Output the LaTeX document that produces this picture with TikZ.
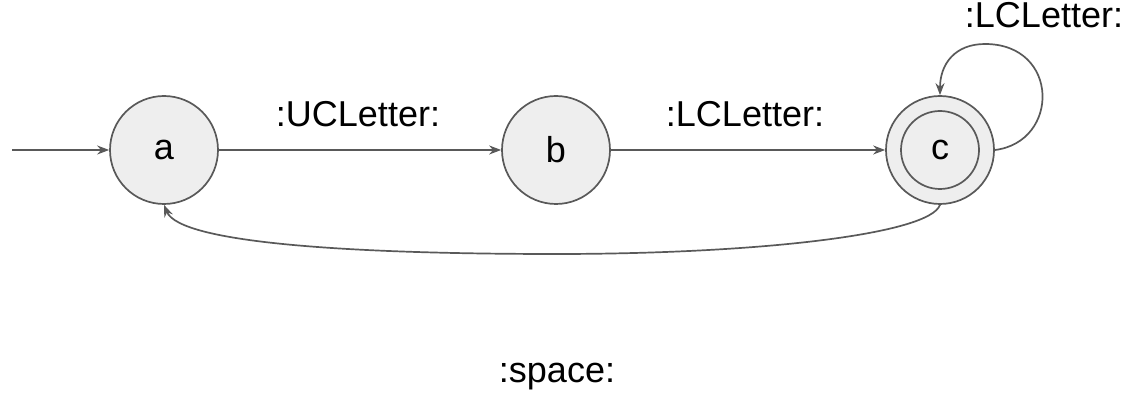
\documentclass[tikz,border=0pt]{standalone}
\usepackage{fontspec}
\setmainfont{Liberation Sans}
\usetikzlibrary{arrows.meta}
\definecolor{linegray}{HTML}{595959}
\definecolor{fillgray}{HTML}{EEEEEE}
\tikzset{
  state/.style={circle, draw=linegray, fill=fillgray, line width=1.7pt, minimum size=108pt, inner sep=0pt, font=\fontsize{36}{42}\selectfont},
  conn/.style={draw=linegray, line width=1.7pt, -{Stealth[length=12pt,width=9pt]}},
  lbl/.style={anchor=base, inner sep=0pt, font=\fontsize{36}{42}\selectfont}
}
\begin{document}
\begin{tikzpicture}[x=1pt,y=1pt]
\useasboundingbox (0,0) rectangle (1132,404);
\node[state] (a) at (164,254) {a};
\node[state] (b) at (556,254) {b};
\node[state] (c) at (940,254) {c};
\node[circle, draw=linegray, line width=1.7pt, minimum size=78pt, inner sep=0pt] (ci) at (c) {};
\coordinate (start) at (12,254);
\draw[conn] (start) -- (a);
\draw[conn] (a) -- (b);
\draw[conn] (b) -- (c);
\draw[conn] (c.south) .. controls (930,170) and (760,150) .. (556,150) .. controls (360,150) and (180,160) .. (a.south);
\draw[conn] (c.east) .. controls (1060,262) and (1060,360) .. (985,360) .. controls (955,360) and (940,340) .. (c.north);
\node[lbl] at (358,277) {:UCLetter:};
\node[lbl] at (745,277) {:LCLetter:};
\node[lbl] at (1044,376) {:LCLetter:};
\node[lbl] at (557,21) {:space:};
\end{tikzpicture}
\end{document}
